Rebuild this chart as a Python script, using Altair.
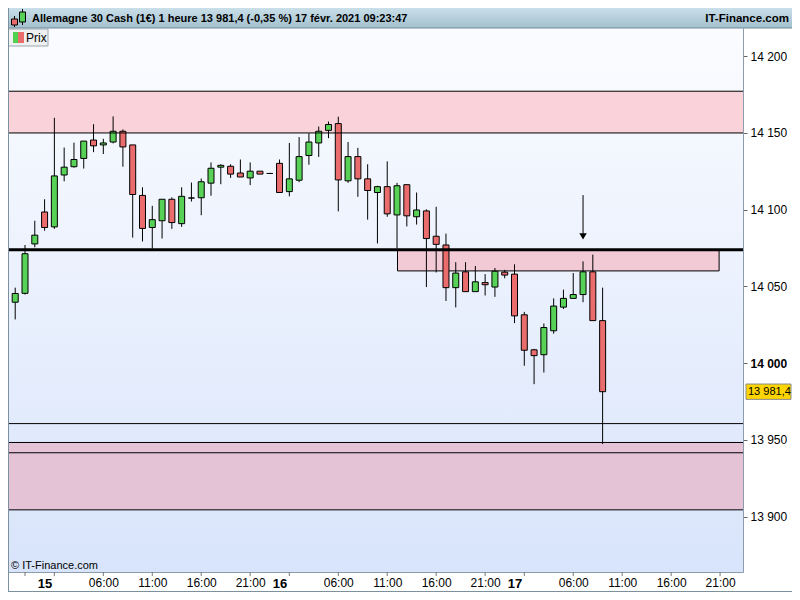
import altair as alt
import pandas as pd

# ---------------- data ----------------
opens = [14039.7, 14045.5, 14077.7, 14098.5, 14088.8, 14122.6, 14128.0, 14133.4, 14145.4, 14142.2,
         14144.1, 14151.1, 14142.2, 14109.3, 14088.4, 14092.8, 14106.8, 14090.9, 14107.6, 14107.8,
         14117.3, 14127.7, 14128.3, 14123.9, 14120.7, 14125.1, 14123.6, 14130.2, 14111.8, 14119.2,
         14135.3, 14143.5, 14151.7, 14156.1, 14118.8, 14134.6, 14120.1, 14111.2, 14115.0, 14096.6,
         14116.3, 14095.4, 14099.2, 14082.7, 14077.0, 14049.2, 14059.5, 14046.6, 14052.5, 14049.6,
         14059.3, 14058.0, 14031.5, 14008.7, 14005.5, 14021.1, 14036.5, 14042.2, 14044.7, 14059.5,
         14027.7]
highs = [14049.2, 14077.0, 14092.8, 14106.8, 14159.9, 14140.5, 14143.7, 14144.7, 14155.7, 14146.2,
         14160.8, 14152.3, 14142.2, 14114.6, 14102.5, 14106.8, 14108.0, 14114.6, 14117.7, 14120.3,
         14130.8, 14129.6, 14129.6, 14132.7, 14130.8, 14125.1, 14124.0, 14132.7, 14143.5, 14147.3,
         14149.8, 14154.2, 14157.4, 14160.6, 14144.1, 14140.3, 14129.6, 14115.6, 14131.5, 14117.5,
         14116.3, 14111.2, 14100.2, 14101.9, 14084.4, 14065.8, 14065.8, 14063.3, 14058.0, 14062.0,
         14060.8, 14064.4, 14033.4, 14009.3, 14025.8, 14042.2, 14047.9, 14058.7, 14066.3, 14070.7,
         14049.2]
lows = [14028.5, 14044.7, 14075.5, 14086.3, 14087.5, 14118.5, 14127.4, 14126.8, 14137.5, 14136.3,
        14143.2, 14128.0, 14081.8, 14079.3, 14074.5, 14081.2, 14087.5, 14088.8, 14105.3, 14096.4,
        14109.1, 14116.6, 14120.7, 14121.3, 14116.0, 14123.2, 14123.3, 14111.2, 14108.7, 14117.9,
        14129.3, 14134.4, 14146.6, 14098.9, 14117.5, 14108.4, 14093.5, 14078.0, 14095.4, 14074.7,
        14089.1, 14090.3, 14049.6, 14059.1, 14040.5, 14036.3, 14046.6, 14046.6, 14044.1, 14043.2,
        14055.3, 14026.1, 13998.3, 13986.3, 13993.9, 14019.2, 14035.3, 14042.2, 14039.7, 14027.7,
        13947.3]
closes = [14045.4, 14071.3, 14083.4, 14088.4, 14122.0, 14127.7, 14132.7, 14144.7, 14141.6, 14143.5,
          14151.1, 14140.9, 14109.9, 14087.8, 14093.5, 14106.8, 14091.6, 14108.7, 14107.6, 14118.2,
          14127.0, 14128.9, 14123.2, 14121.3, 14125.1, 14123.2, 14123.6, 14111.2, 14120.1, 14134.6,
          14144.1, 14151.1, 14155.5, 14119.4, 14134.6, 14120.1, 14112.5, 14115.0, 14097.3, 14115.6,
          14096.0, 14099.8, 14081.2, 14077.4, 14049.2, 14058.7, 14046.6, 14053.0, 14051.1, 14059.9,
          14057.4, 14030.8, 14008.4, 14004.9, 14023.2, 14037.2, 14042.2, 14044.7, 14059.5, 14027.7,
          13981.4]

# horizontal levels and zones
zone_top = [14150.0, 14177.2]
zone_bottom = [13904.4, 13948.3]
thin_levels = [14177.2, 14150.0, 13960.6, 13948.3, 13941.6, 13904.4]
thick_level = [14073.9]
box_lo, box_hi = 14060.1, 14073.9
box_start, box_end = 39.05, 71.9

# arrow
arrow_idx, arrow_top, arrow_tip = 58, 14109.5, 14082.6

# last price
last_price = 13981.4
last_label = "13 981,4"

# axes
y_ticks = [13900, 13950, 14000, 14050, 14100, 14150, 14200]
x_tick_idx = [1, 4, 9, 14, 19, 24, 28, 33, 38, 43, 48, 52, 57, 62, 67, 72]
x_label_idx = [3, 9, 14, 19, 24, 27, 33, 38, 43, 48, 51, 57, 62, 67, 72]
x_label_txt = ["15", "06:00", "11:00", "16:00", "21:00", "16", "06:00", "11:00", "16:00", "21:00",
               "17", "06:00", "11:00", "16:00", "21:00"]
day_idx = [3, 27, 51]

title_text = "Allemagne 30 Cash (1€) 1 heure 13 981,4 (-0,35 %) 17 févr. 2021 09:23:47"
brand_text = "IT-Finance.com"
copy_text = "© IT-Finance.com"
legend_text = "Prix"

# ---------------- layout ----------------
W, H = 735, 544
PR = 49
FONT = "Liberation Sans"
x_dom = [-0.737, 74.34]
y_dom = [13863.9, 14218.4]

xs = alt.Scale(domain=x_dom, nice=False, zero=False, padding=0)
ys = alt.Scale(domain=y_dom, nice=False, zero=False, padding=0)

expr = "''"
for v, t in reversed(list(zip(x_label_idx, x_label_txt))):
    expr = f"datum.value == {v} ? '{t}' : ({expr})"
day_test = " || ".join(f"datum.value == {d}" for d in day_idx)

x_axis = alt.Axis(values=x_label_idx, labelExpr=expr, ticks=False, tickSize=0, domain=True,
                  domainColor="#8c9cab", grid=False, title=None, labelPadding=5, labelFont=FONT,
                  labelFontSize={"condition": {"test": day_test, "value": 13}, "value": 12},
                  labelFontWeight={"condition": {"test": day_test, "value": "bold"}, "value": "normal"},
                  labelColor="#000000", labelFlush=False, labelOverlap=False)
y_axis = alt.Axis(orient="right", values=y_ticks, labelExpr="replace(format(datum.value, ','), ',', ' ')",
                  tickSize=4, tickColor="#666666", domainColor="#8c9cab", grid=False, title=None,
                  labelPadding=3, labelFontSize=12, labelFont=FONT, labelColor="#000000",
                  labelFontWeight={"condition": {"test": "datum.value == 14000", "value": "bold"}, "value": "normal"},
                  labelOverlap=False, labelFlush=False)


def X(f):
    return alt.X(f, type="quantitative", scale=xs, axis=x_axis)


def Y(f):
    return alt.Y(f, type="quantitative", scale=ys, axis=y_axis)


one = pd.DataFrame({"k": [0]})

bg_grad = alt.LinearGradient(gradient="linear", x1=0, x2=0, y1=0, y2=1,
                             stops=[alt.GradientStop(color="#fbfcff", offset=0),
                                    alt.GradientStop(color="#d8e4fb", offset=1)])
bg = alt.Chart(one).mark_rect(fill=bg_grad).encode(
    x=alt.value(0), x2=alt.value(W), y=alt.value(0), y2=alt.value(H))

ztop = alt.Chart(pd.DataFrame({"lo": [zone_top[0]], "hi": [zone_top[1]]})).mark_rect(
    fill="#f9d3d9").encode(y=Y("hi"), y2="lo", x=alt.value(0), x2=alt.value(W))
zbot = alt.Chart(pd.DataFrame({"lo": [zone_bottom[0]], "hi": [zone_bottom[1]]})).mark_rect(
    fill="#e5c3d7").encode(y=Y("hi"), y2="lo", x=alt.value(0), x2=alt.value(W))

box = alt.Chart(pd.DataFrame({"x0": [box_start], "x1": [box_end], "lo": [box_lo], "hi": [box_hi]})).mark_rect(
    fill="#f2cad6", stroke="#000000", strokeWidth=1).encode(x=X("x0"), x2="x1", y=Y("hi"), y2="lo")

n = len(opens)
cdf = pd.DataFrame({"i": list(range(n)), "o": opens, "h": highs, "l": lows, "c": closes})
cdf["dir"] = ["up" if c > o else ("down" if c < o else "doji") for o, c in zip(opens, closes)]

wicks = alt.Chart(cdf).mark_rule(color="#000000", strokeWidth=1).encode(x=X("i"), y=Y("l"), y2="h")
bodies = alt.Chart(cdf).mark_bar(size=6, stroke="#000000", strokeWidth=1).encode(
    x=X("i"), y=Y("o"), y2="c",
    color=alt.Color("dir:N", scale=alt.Scale(domain=["up", "down", "doji"],
                                             range=["#57d257", "#ea6c6c", "#000000"]), legend=None))

thin = alt.Chart(pd.DataFrame({"p": thin_levels})).mark_rule(color="#000000", strokeWidth=1).encode(
    y=Y("p"), x=alt.value(0), x2=alt.value(W))
thick = alt.Chart(pd.DataFrame({"p": thick_level})).mark_rule(color="#000000", strokeWidth=3).encode(
    y=Y("p"), x=alt.value(0), x2=alt.value(W))

adf = pd.DataFrame({"i": [arrow_idx], "top": [arrow_top], "tip": [arrow_tip]})
arrow_line = alt.Chart(adf).mark_rule(color="#000000", strokeWidth=1).encode(x=X("i"), y=Y("top"), y2="tip")
arrow_head = alt.Chart(adf).mark_point(shape="triangle-down", filled=True, color="#000000", size=55,
                                       opacity=1).encode(x=X("i"), y=Y("tip"))

ticks = alt.Chart(pd.DataFrame({"t": x_tick_idx})).mark_rule(color="#777777", strokeWidth=1).encode(
    x=X("t"), y=alt.value(H), y2=alt.value(H + 4))

pdf = pd.DataFrame({"p": [last_price], "txt": [last_label]})
price_box = alt.Chart(pdf).transform_calculate(top="datum.p + 5", bot="datum.p - 5").mark_rect(
    fill="#ffd500", stroke="#8a8a8a", strokeWidth=1).encode(
    y=Y("top:Q"), y2="bot:Q", x=alt.value(W + 3), x2=alt.value(W + PR - 1))
price_txt = alt.Chart(pdf).mark_text(align="left", baseline="middle", font=FONT, fontSize=11,
                                     color="#000000").encode(y=Y("p"), x=alt.value(W + 5), text="txt:N")

# header bar
hdr_grad = alt.LinearGradient(gradient="linear", x1=0, x2=0, y1=0, y2=1,
                              stops=[alt.GradientStop(color="#c9dfe9", offset=0),
                                     alt.GradientStop(color="#a3c0ce", offset=1)])
header = alt.Chart(one).mark_rect(fill=hdr_grad).encode(
    x=alt.value(0), x2=alt.value(W + PR), y=alt.value(-20), y2=alt.value(0))
header_line = alt.Chart(one).mark_rule(color="#6f8797", strokeWidth=1).encode(
    x=alt.value(0), x2=alt.value(W + PR), y=alt.value(0))
hdr_title = alt.Chart(pd.DataFrame({"t": [title_text]})).mark_text(
    align="left", baseline="middle", font=FONT, fontSize=11, fontWeight="bold", color="#000000").encode(
    x=alt.value(24), y=alt.value(-9.5), text="t:N")
hdr_brand = alt.Chart(pd.DataFrame({"t": [brand_text]})).mark_text(
    align="right", baseline="middle", font=FONT, fontSize=11.5, fontWeight="bold", color="#000000").encode(
    x=alt.value(W + PR - 3), y=alt.value(-9.5), text="t:N")
icon_r_w = alt.Chart(one).mark_rule(color="#000000").encode(x=alt.value(6.5), y=alt.value(-12), y2=alt.value(-1))
icon_r = alt.Chart(one).mark_rect(fill="#ea6c6c", stroke="#000000", strokeWidth=1).encode(
    x=alt.value(3.5), x2=alt.value(9.5), y=alt.value(-9), y2=alt.value(-3))
icon_g_w = alt.Chart(one).mark_rule(color="#000000").encode(x=alt.value(14.5), y=alt.value(-19), y2=alt.value(-3))
icon_g = alt.Chart(one).mark_rect(fill="#57d257", stroke="#000000", strokeWidth=1).encode(
    x=alt.value(11.5), x2=alt.value(17.5), y=alt.value(-16), y2=alt.value(-6))

# legend "Prix"
leg_box = alt.Chart(one).mark_rect(fill="#eef0f2", stroke="#9aa6b0", strokeWidth=1).encode(
    x=alt.value(0.5), x2=alt.value(40), y=alt.value(1), y2=alt.value(18))
leg_g = alt.Chart(one).mark_rect(fill="#4fd24f").encode(
    x=alt.value(5), x2=alt.value(10), y=alt.value(4), y2=alt.value(15))
leg_r = alt.Chart(one).mark_rect(fill="#ea6c6c").encode(
    x=alt.value(10), x2=alt.value(16), y=alt.value(4), y2=alt.value(15))
leg_t = alt.Chart(pd.DataFrame({"t": [legend_text]})).mark_text(
    align="left", baseline="middle", font=FONT, fontSize=12, color="#000000").encode(
    x=alt.value(18), y=alt.value(10), text="t:N")

copy = alt.Chart(pd.DataFrame({"t": [copy_text]})).mark_text(
    align="left", baseline="middle", font=FONT, fontSize=11, color="#000000").encode(
    x=alt.value(3), y=alt.value(H - 6), text="t:N")

frame_l = alt.Chart(one).mark_rule(color="#7d909e", strokeWidth=1).encode(
    x=alt.value(0.5), y=alt.value(-20), y2=alt.value(H + 20))
frame_b = alt.Chart(one).mark_rule(color="#7d909e", strokeWidth=1).encode(
    x=alt.value(0), x2=alt.value(W + PR), y=alt.value(H + 19.5))

chart = alt.layer(
    bg, ztop, zbot, box, wicks, bodies, thin, thick, arrow_line, arrow_head, ticks,
    price_box, price_txt, header, header_line, icon_r_w, icon_r, icon_g_w, icon_g,
    hdr_title, hdr_brand, leg_box, leg_g, leg_r, leg_t, copy, frame_l, frame_b
).properties(
    width=W, height=H,
    padding={"left": 0, "top": 20, "right": PR, "bottom": 20},
    autosize=alt.AutoSizeParams(type="none"),
    background="#ffffff",
).configure_view(strokeWidth=0)

chart.save("out.html", embed_options={"renderer": "svg", "actions": False})
